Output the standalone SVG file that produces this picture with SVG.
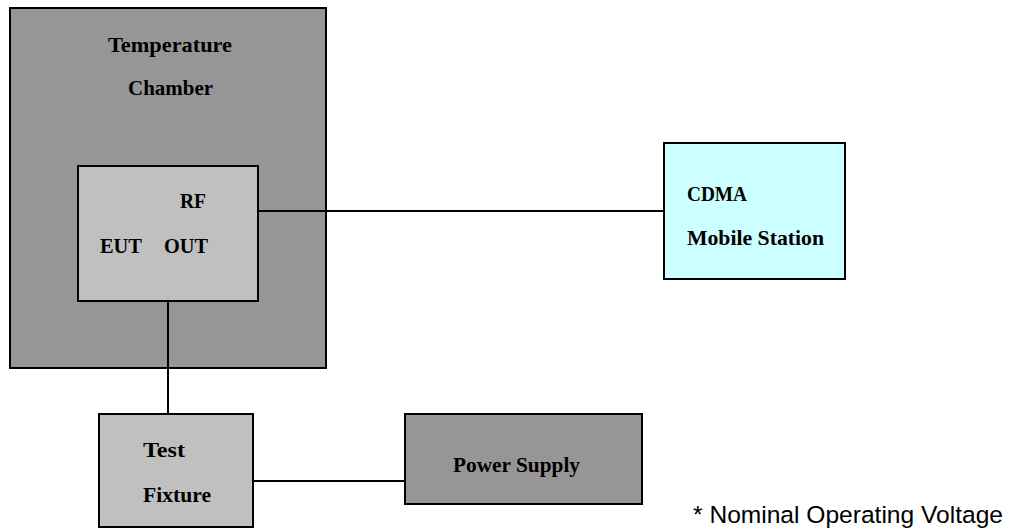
<svg xmlns="http://www.w3.org/2000/svg" width="1011" height="529" viewBox="0 0 1011 529">
<style>
.box{stroke:#000;stroke-width:2}
.dark{fill:#969696}
.light{fill:#c0c0c0}
.cyan{fill:#ccffff}
.lbl{font-family:"Liberation Serif","Times New Roman",serif;font-weight:bold;font-size:21.5px;fill:#000}
.sm{font-size:20px}
.note{font-family:"Liberation Sans",Arial,sans-serif;font-size:24.5px;fill:#000}
.conn{stroke:#000;stroke-width:2;fill:none}
</style>
<rect width="1011" height="529" fill="#fff"/>
<g id="chamber">
<rect class="box dark" x="10" y="8" width="316" height="360"/>
<text class="lbl" x="108" y="52" textLength="124" lengthAdjust="spacingAndGlyphs">Temperature</text>
<text class="lbl" x="128" y="95" textLength="85" lengthAdjust="spacingAndGlyphs">Chamber</text>
</g>
<g id="eut">
<rect class="box light" x="78" y="166" width="180" height="135"/>
<text class="lbl sm" x="180" y="208" textLength="26" lengthAdjust="spacingAndGlyphs">RF</text>
<text class="lbl sm" x="100" y="253" textLength="42" lengthAdjust="spacingAndGlyphs">EUT</text>
<text class="lbl sm" x="164" y="253" textLength="44" lengthAdjust="spacingAndGlyphs">OUT</text>
</g>
<g id="cdma">
<rect class="box cyan" x="664" y="143" width="181" height="136"/>
<text class="lbl" x="687" y="201" textLength="60" lengthAdjust="spacingAndGlyphs">CDMA</text>
<text class="lbl" x="687" y="245" textLength="137" lengthAdjust="spacingAndGlyphs">Mobile Station</text>
</g>
<g id="fixture">
<rect class="box light" x="99" y="414" width="154" height="113"/>
<text class="lbl" x="143" y="457" textLength="42" lengthAdjust="spacingAndGlyphs">Test</text>
<text class="lbl" x="143" y="502" textLength="68" lengthAdjust="spacingAndGlyphs">Fixture</text>
</g>
<g id="power">
<rect class="box dark" x="405" y="414" width="237" height="90"/>
<text class="lbl" x="453" y="472" textLength="127" lengthAdjust="spacingAndGlyphs">Power Supply</text>
</g>
<g id="connectors">
<line class="conn" x1="258" y1="211" x2="664" y2="211"/>
<line class="conn" x1="168" y1="301" x2="168" y2="414"/>
<line class="conn" x1="253" y1="481" x2="405" y2="481"/>
</g>
<text id="footnote" class="note" x="693" y="523" textLength="310" lengthAdjust="spacingAndGlyphs">* Nominal Operating Voltage</text>
</svg>
